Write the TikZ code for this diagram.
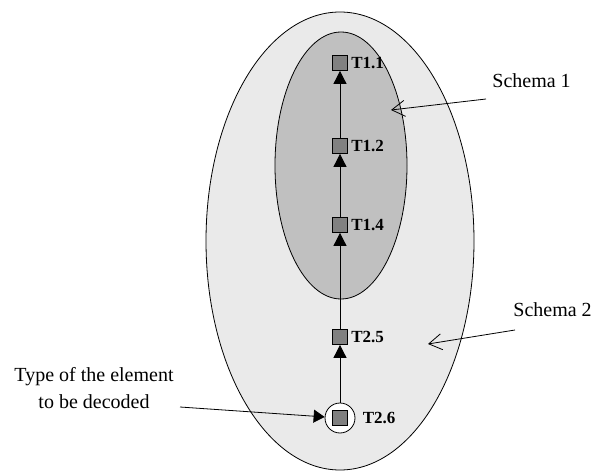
\documentclass[tikz,border=0pt]{standalone}
\usepackage{fontspec}
\setmainfont{Liberation Serif}
\definecolor{outergray}{RGB}{234,234,234}
\definecolor{innergray}{RGB}{192,192,192}
\definecolor{boxgray}{RGB}{128,128,128}
\usetikzlibrary{positioning,arrows.meta}

\begin{document}
\begin{tikzpicture}[x=1pt,y=-1pt,line width=0.8pt,
  sq/.style={draw,fill=boxgray,minimum size=15pt,inner sep=0pt},
  tlabel/.style={font=\fontsize{17}{20}\selectfont\bfseries,inner sep=2pt},
  caption/.style={font=\fontsize{20}{27}\selectfont,inner sep=0pt},
  up/.style={-{Triangle[length=13pt,width=13pt]}},
  barb/.style={-{Straight Barb[length=13pt,width=16pt,line width=0.8pt]}}]
\useasboundingbox (0,0) rectangle (598,471);
\draw[fill=outergray] (340,241) ellipse [x radius=134, y radius=229];
\draw[fill=innergray] (341,165.5) ellipse [x radius=66, y radius=133.5];
\node[draw,fill=white,circle,minimum size=30pt,inner sep=0pt] (c26) at (340,418) {};
\foreach \n/\y in {11/63,12/146,14/225,25/337,26/418} {
  \node[sq] (t\n) at (340,\y) {};
}
\foreach \n/\t in {11/T1.1,12/T1.2,14/T1.4,25/T2.5}
  \node[tlabel, right=1pt of t\n] (l\n) {\t};
\node[tlabel, right=5pt of c26] (l26) {T2.6};
\foreach \a/\b in {14/12,12/11,25/14}
  \draw[up] (t\a) -- (t\b);
\draw[up] (c26) -- (t25);
\node[caption,anchor=base west] (s1) at (492,87) {Schema 1};
\node[caption,anchor=base west] (s2) at (513,316) {Schema 2};
\node[caption,align=center,anchor=base] (typ) at (94,408) {Type of the element\\to be decoded};
\coordinate (s1from) at (486,99);
\coordinate (s1tip) at (391,110);
\coordinate (s2from) at (515,330);
\coordinate (s2tip) at (428,344);
\coordinate (typfrom) at (180,407);
\draw[barb] (s1from) -- (s1tip);
\draw[barb] (s2from) -- (s2tip);
\draw[-{Triangle[length=11pt,width=13pt]}] (typfrom) -- (c26);
\end{tikzpicture}
\end{document}
